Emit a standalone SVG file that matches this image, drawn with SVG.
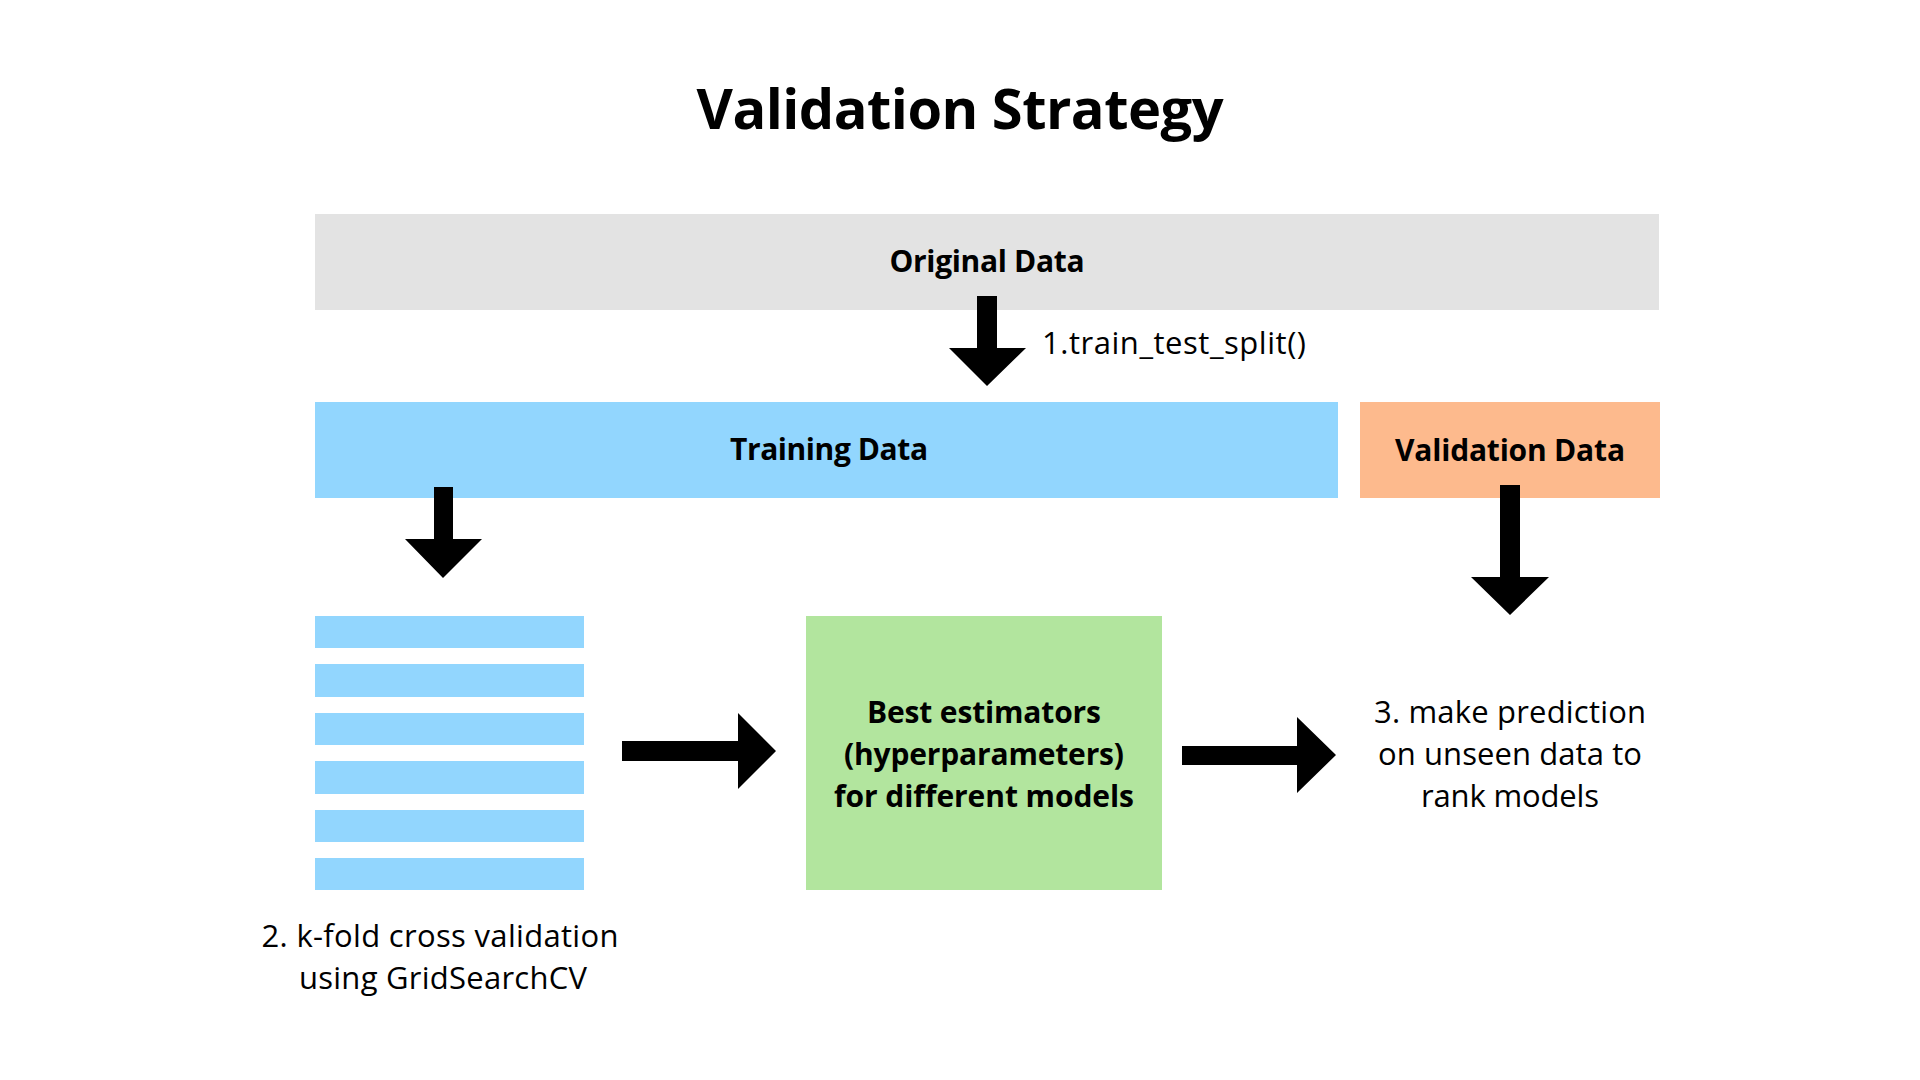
<svg xmlns="http://www.w3.org/2000/svg" width="1920" height="1080" viewBox="0 0 1920 1080">
  <style>
    text { font-family: "Open Sans", "Liberation Sans", sans-serif; fill: #000000; text-anchor: middle; }
    .title { font-size: 56px; font-weight: 700; }
    .lbl { font-size: 30px; font-weight: 700; }
    .note { font-size: 31px; font-weight: 400; }
    .arrow { fill: #000000; }
    .stripe { fill: #92D6FE; }
  </style>
  <rect width="1920" height="1080" fill="#FFFFFF"/>

  <g id="title">
    <text class="title" x="960" y="129" textLength="527">Validation Strategy</text>
  </g>

  <g id="original-data">
    <rect x="315" y="214" width="1344" height="96" fill="#E3E3E3"/>
    <text class="lbl" x="987" y="272" textLength="195">Original Data</text>
  </g>

  <g id="training-data">
    <rect x="315" y="402" width="1023" height="96" fill="#92D6FE"/>
    <text class="lbl" x="829" y="460" textLength="198">Training Data</text>
  </g>

  <g id="validation-data">
    <rect x="1360" y="402" width="300" height="96" fill="#FDBA8D"/>
    <text class="lbl" x="1510" y="461" textLength="230">Validation Data</text>
  </g>

  <g id="kfold">
    <rect class="stripe" x="315" y="616" width="269" height="32"/>
    <rect class="stripe" x="315" y="664" width="269" height="33"/>
    <rect class="stripe" x="315" y="713" width="269" height="32"/>
    <rect class="stripe" x="315" y="761" width="269" height="33"/>
    <rect class="stripe" x="315" y="810" width="269" height="32"/>
    <rect class="stripe" x="315" y="858" width="269" height="32"/>
    <text class="note" x="440" y="947" textLength="357">2. k-fold cross validation</text>
    <text class="note" x="443" y="989" textLength="288">using GridSearchCV</text>
  </g>

  <g id="best-estimators">
    <rect x="806" y="616" width="356" height="274" fill="#B2E59E"/>
    <text class="lbl" x="984" y="723" textLength="234">Best estimators</text>
    <text class="lbl" x="984" y="765" textLength="280">(hyperparameters)</text>
    <text class="lbl" x="984" y="807" textLength="300">for different models</text>
  </g>

  <g id="prediction">
    <text class="note" x="1510" y="723" textLength="272">3. make prediction</text>
    <text class="note" x="1510" y="765" textLength="264">on unseen data to</text>
    <text class="note" x="1510" y="807" textLength="178">rank models</text>
  </g>

  <g id="connectors">
    <polygon class="arrow" points="977,296 997,296 997,348 1026,348 987,386 949,348 977,348"/>
    <text class="note" x="1174" y="354" textLength="264">1.train_test_split()</text>
    <polygon class="arrow" points="434,487 453,487 453,539 482,539 443,578 405,539 434,539"/>
    <polygon class="arrow" points="1500,485 1520,485 1520,577 1549,577 1510,615 1471,577 1500,577"/>
    <polygon class="arrow" points="622,741 738,741 738,713 776,751 738,789 738,761 622,761"/>
    <polygon class="arrow" points="1182,746 1297,746 1297,717 1336,755 1297,793 1297,765 1182,765"/>
  </g>
</svg>
